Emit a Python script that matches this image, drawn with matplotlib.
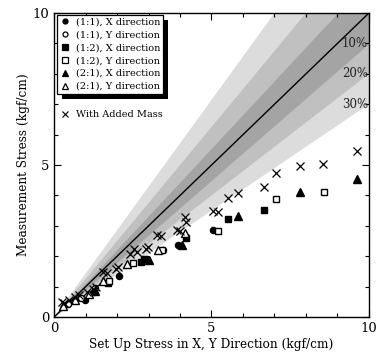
import matplotlib
matplotlib.use("Agg")
import matplotlib.pyplot as plt
import numpy as np
from matplotlib.lines import Line2D
from matplotlib.patches import Rectangle

plt.rcParams["font.family"] = ["DejaVu Serif"]

# measured vs set-up stress (kgf/cm), one pair of lists per series
x11_x = [0.97, 1.26, 2.05, 2.95, 3.95, 5.05]
y11_x = [0.56, 0.83, 1.35, 1.90, 2.36, 2.88]
x11_y = [0.45, 0.84, 1.30, 3.45]
y11_y = [0.42, 0.62, 0.95, 2.20]
x12_x = [1.72, 2.75, 2.85, 4.20, 5.52, 6.67]
y12_x = [1.12, 1.80, 1.92, 2.60, 3.23, 3.51]
x12_y = [1.75, 2.52, 3.42, 5.21, 7.05, 8.56]
y12_y = [1.20, 1.79, 2.22, 2.83, 3.88, 4.11]
x21_x = [1.30, 3.00, 4.05, 5.85, 7.82, 9.62]
y21_x = [0.85, 1.88, 2.36, 3.34, 4.11, 4.53]
x21_y = [0.29, 0.65, 1.10, 1.55, 2.33, 3.31, 4.15]
y21_y = [0.36, 0.56, 0.76, 1.19, 1.74, 2.20, 2.75]
x_mass = [0.26, 0.31, 0.47, 0.68, 0.79, 1.05, 1.24, 1.34, 1.57, 1.68, 1.97, 2.04,
          2.41, 2.62, 2.55, 2.91, 2.97, 3.28, 3.39, 3.91, 4.01, 4.17, 4.19, 5.05,
          5.20, 5.52, 5.85, 6.67, 7.04, 7.82, 8.55, 9.62]
y_mass = [0.50, 0.45, 0.56, 0.67, 0.72, 0.83, 0.91, 1.00, 1.49, 1.46, 1.57, 1.65,
          2.09, 2.15, 2.23, 2.23, 2.29, 2.70, 2.67, 2.88, 2.84, 3.30, 3.13, 3.50,
          3.47, 3.91, 4.07, 4.27, 4.75, 4.98, 5.02, 5.47]

error_levels = [0.3, 0.2, 0.1]
band_colors = ["#dcdcdc", "#c0c0c0", "#a4a4a4"]
level_labels = ["30%", "20%", "10%"]

fig = plt.figure(figsize=(3.78, 3.62), dpi=100)
ax = fig.add_axes([0.143, 0.124, 0.833, 0.840])

xs = np.linspace(0, 10, 200)
for p, c in zip(error_levels, band_colors):
    ax.fill_between(xs, xs * (1 - p), xs / (1 - p), color=c, lw=0, zorder=1)
ax.plot([0, 10], [0, 10], color="black", lw=1.0, zorder=2)
for p, lab in zip(error_levels, level_labels):
    ax.text(9.97, 10 * (1 - p), lab, ha="right", va="center", fontsize=8.5,
            color="#222222", zorder=3)

ms = 4.4
kw = dict(ls="none", color="black", zorder=4)
ax.plot(x11_x, y11_x, marker="o", ms=ms, **kw)
ax.plot(x11_y, y11_y, marker="o", ms=ms, mfc="white", mew=1.0, **kw)
ax.plot(x12_x, y12_x, marker="s", ms=ms - 0.3, **kw)
ax.plot(x12_y, y12_y, marker="s", ms=ms - 0.3, mfc="white", mew=1.0, **kw)
ax.plot(x21_x, y21_x, marker="^", ms=ms + 0.8, **kw)
ax.plot(x21_y, y21_y, marker="^", ms=ms + 0.8, mfc="white", mew=1.0, **kw)
ax.plot(x_mass, y_mass, marker="x", ms=5.8, mew=0.9, **kw)

ax.set_xlim(0, 10)
ax.set_ylim(0, 10)
ax.set_xticks([0, 5, 10])
ax.set_yticks([0, 5, 10])
ax.set_xticks(np.arange(0, 11, 1), minor=True)
ax.set_yticks(np.arange(0, 11, 1), minor=True)
ax.tick_params(which="both", direction="in", top=True, right=True,
               labelsize=9.5, width=0.8)
ax.tick_params(which="major", length=5)
ax.tick_params(which="minor", length=3)
for s in ax.spines.values():
    s.set_linewidth(1.0)
ax.set_xlabel("Set Up Stress in X, Y Direction (kgf/cm)", fontsize=8.7, labelpad=2)
ax.set_ylabel("Measurement Stress (kgf/cm)", fontsize=8.7, labelpad=2)

def handle(marker, filled, size=ms):
    return Line2D([], [], ls="none", marker=marker, color="black", ms=size - 0.8,
                  mfc="black" if filled else "white", mew=0.9)

handles = [handle("o", True), handle("o", False), handle("s", True),
           handle("s", False), handle("^", True, ms + 0.4), handle("^", False, ms + 0.4)]
labels = ["(1:1), X direction", "(1:1), Y direction", "(1:2), X direction",
          "(1:2), Y direction", "(2:1), X direction", "(2:1), Y direction"]
leg = ax.legend(handles, labels, loc="upper left", bbox_to_anchor=(0.01, 0.995),
                fontsize=7.0, frameon=True, fancybox=False, edgecolor="black",
                framealpha=1, borderpad=0.3, handlelength=1.0, handletextpad=0.6,
                labelspacing=0.4, borderaxespad=0)
leg.get_frame().set_linewidth(0.9)
leg.set_zorder(6)

mass_leg = ax.legend([Line2D([], [], ls="none", marker="x", color="black", ms=5, mew=0.8)],
                     ["With Added Mass"], loc="upper left", bbox_to_anchor=(0.01, 0.69),
                     fontsize=7.0, frameon=False, handlelength=1.0, handletextpad=0.6,
                     borderaxespad=0, borderpad=0.3)
ax.add_artist(leg)

# drop shadow behind the framed legend
fig.canvas.draw()
bb = leg.get_window_extent().transformed(ax.transAxes.inverted())
dx = 5 / (ax.bbox.width)
dy = 5 / (ax.bbox.height)
ax.add_patch(Rectangle((bb.x0 + dx, bb.y0 - dy), bb.width, bb.height,
                       transform=ax.transAxes, color="black", lw=0, zorder=5.9,
                       clip_on=False))

fig.savefig("out.png", dpi=100)
